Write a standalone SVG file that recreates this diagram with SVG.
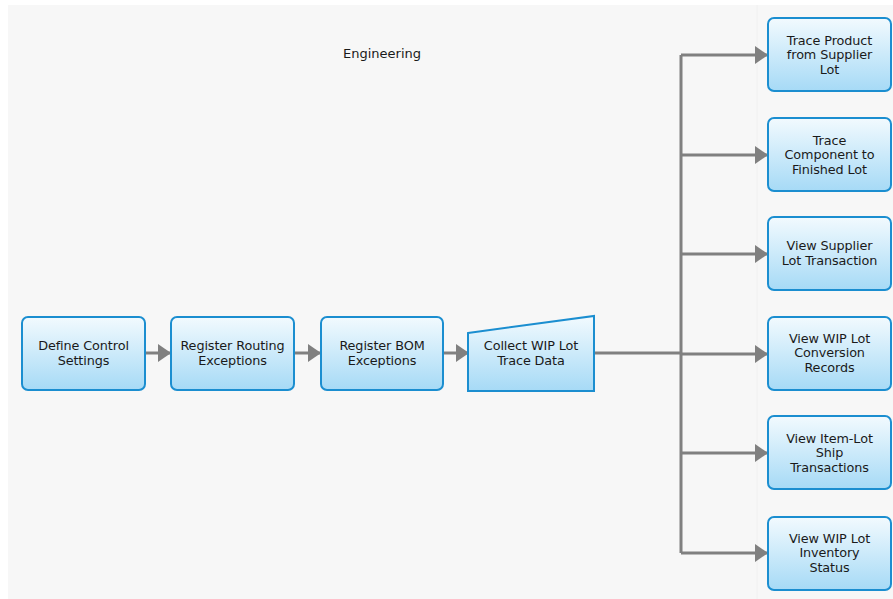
<svg xmlns="http://www.w3.org/2000/svg" width="893" height="599" viewBox="0 0 893 599">
<defs>
<linearGradient id="g" x1="0" y1="0" x2="0" y2="1">
<stop offset="0" stop-color="#f2fafe"/>
<stop offset="1" stop-color="#a6daf6"/>
</linearGradient>
<marker id="ah" viewBox="0 0 13 18" refX="13" refY="9" markerWidth="13" markerHeight="18" markerUnits="userSpaceOnUse" orient="auto">
<path d="M0,0 L13,9 L0,18 Z" fill="#808080"/>
</marker>
<style>
.n{fill:url(#g);stroke:#1b8ed0;stroke-width:2}
.t{font-family:"DejaVu Sans",Verdana,sans-serif;font-size:12.8px;fill:#1a1a1a;text-anchor:middle;letter-spacing:-0.1px}
.c{fill:none;stroke:#808080;stroke-width:3}
</style>
</defs>
<rect x="8" y="5" width="885" height="594" fill="#f7f7f7"/>
<line x1="757" y1="5" x2="757" y2="599" stroke="#f0f0f0" stroke-width="1"/>
<text x="382" y="58" class="t" style="font-size:13px;letter-spacing:0">Engineering</text>
<g id="connectors">
<line class="c" x1="145" y1="353" x2="171" y2="353" marker-end="url(#ah)"/>
<line class="c" x1="294" y1="353" x2="321" y2="353" marker-end="url(#ah)"/>
<line class="c" x1="443" y1="353" x2="469" y2="353" marker-end="url(#ah)"/>
<polyline class="c" points="594,353 681,353"/>
<line class="c" x1="681" y1="55" x2="681" y2="553"/>
<line class="c" x1="681" y1="55" x2="768" y2="55" marker-end="url(#ah)"/>
<line class="c" x1="681" y1="155" x2="768" y2="155" marker-end="url(#ah)"/>
<line class="c" x1="681" y1="254" x2="768" y2="254" marker-end="url(#ah)"/>
<line class="c" x1="681" y1="354" x2="768" y2="354" marker-end="url(#ah)"/>
<line class="c" x1="681" y1="453" x2="768" y2="453" marker-end="url(#ah)"/>
<line class="c" x1="681" y1="553" x2="768" y2="553" marker-end="url(#ah)"/>
</g>
<g id="n1"><rect class="n" x="22" y="317" width="123" height="73" rx="6"/>
<text class="t" x="83.5" y="350">Define Control</text><text class="t" x="83.5" y="365">Settings</text></g>
<g id="n2"><rect class="n" x="171" y="317" width="123" height="73" rx="6"/>
<text class="t" x="232.5" y="350">Register Routing</text><text class="t" x="232.5" y="365">Exceptions</text></g>
<g id="n3"><rect class="n" x="321" y="317" width="122" height="73" rx="6"/>
<text class="t" x="382" y="350">Register BOM</text><text class="t" x="382" y="365">Exceptions</text></g>
<g id="n4"><polygon class="n" points="468,333 594,316 594,391 468,391"/>
<text class="t" x="531" y="350">Collect WIP Lot</text><text class="t" x="531" y="365">Trace Data</text></g>
<g id="n5"><rect class="n" x="768" y="18" width="123" height="73" rx="6"/>
<text class="t" x="829.5" y="44.5">Trace Product</text><text class="t" x="829.5" y="59">from Supplier</text><text class="t" x="829.5" y="73.5">Lot</text></g>
<g id="n6"><rect class="n" x="768" y="118" width="123" height="73" rx="6"/>
<text class="t" x="829.5" y="144.5">Trace</text><text class="t" x="829.5" y="159">Component to</text><text class="t" x="829.5" y="173.5">Finished Lot</text></g>
<g id="n7"><rect class="n" x="768" y="217" width="123" height="73" rx="6"/>
<text class="t" x="829.5" y="250">View Supplier</text><text class="t" x="829.5" y="265">Lot Transaction</text></g>
<g id="n8"><rect class="n" x="768" y="317" width="123" height="73" rx="6"/>
<text class="t" x="829.5" y="342.5">View WIP Lot</text><text class="t" x="829.5" y="357">Conversion</text><text class="t" x="829.5" y="371.5">Records</text></g>
<g id="n9"><rect class="n" x="768" y="416" width="123" height="73" rx="6"/>
<text class="t" x="829.5" y="442.5">View Item-Lot</text><text class="t" x="829.5" y="457">Ship</text><text class="t" x="829.5" y="471.5">Transactions</text></g>
<g id="n10"><rect class="n" x="768" y="517" width="123" height="73" rx="6"/>
<text class="t" x="829.5" y="542.5">View WIP Lot</text><text class="t" x="829.5" y="557">Inventory</text><text class="t" x="829.5" y="571.5">Status</text></g>
</svg>
